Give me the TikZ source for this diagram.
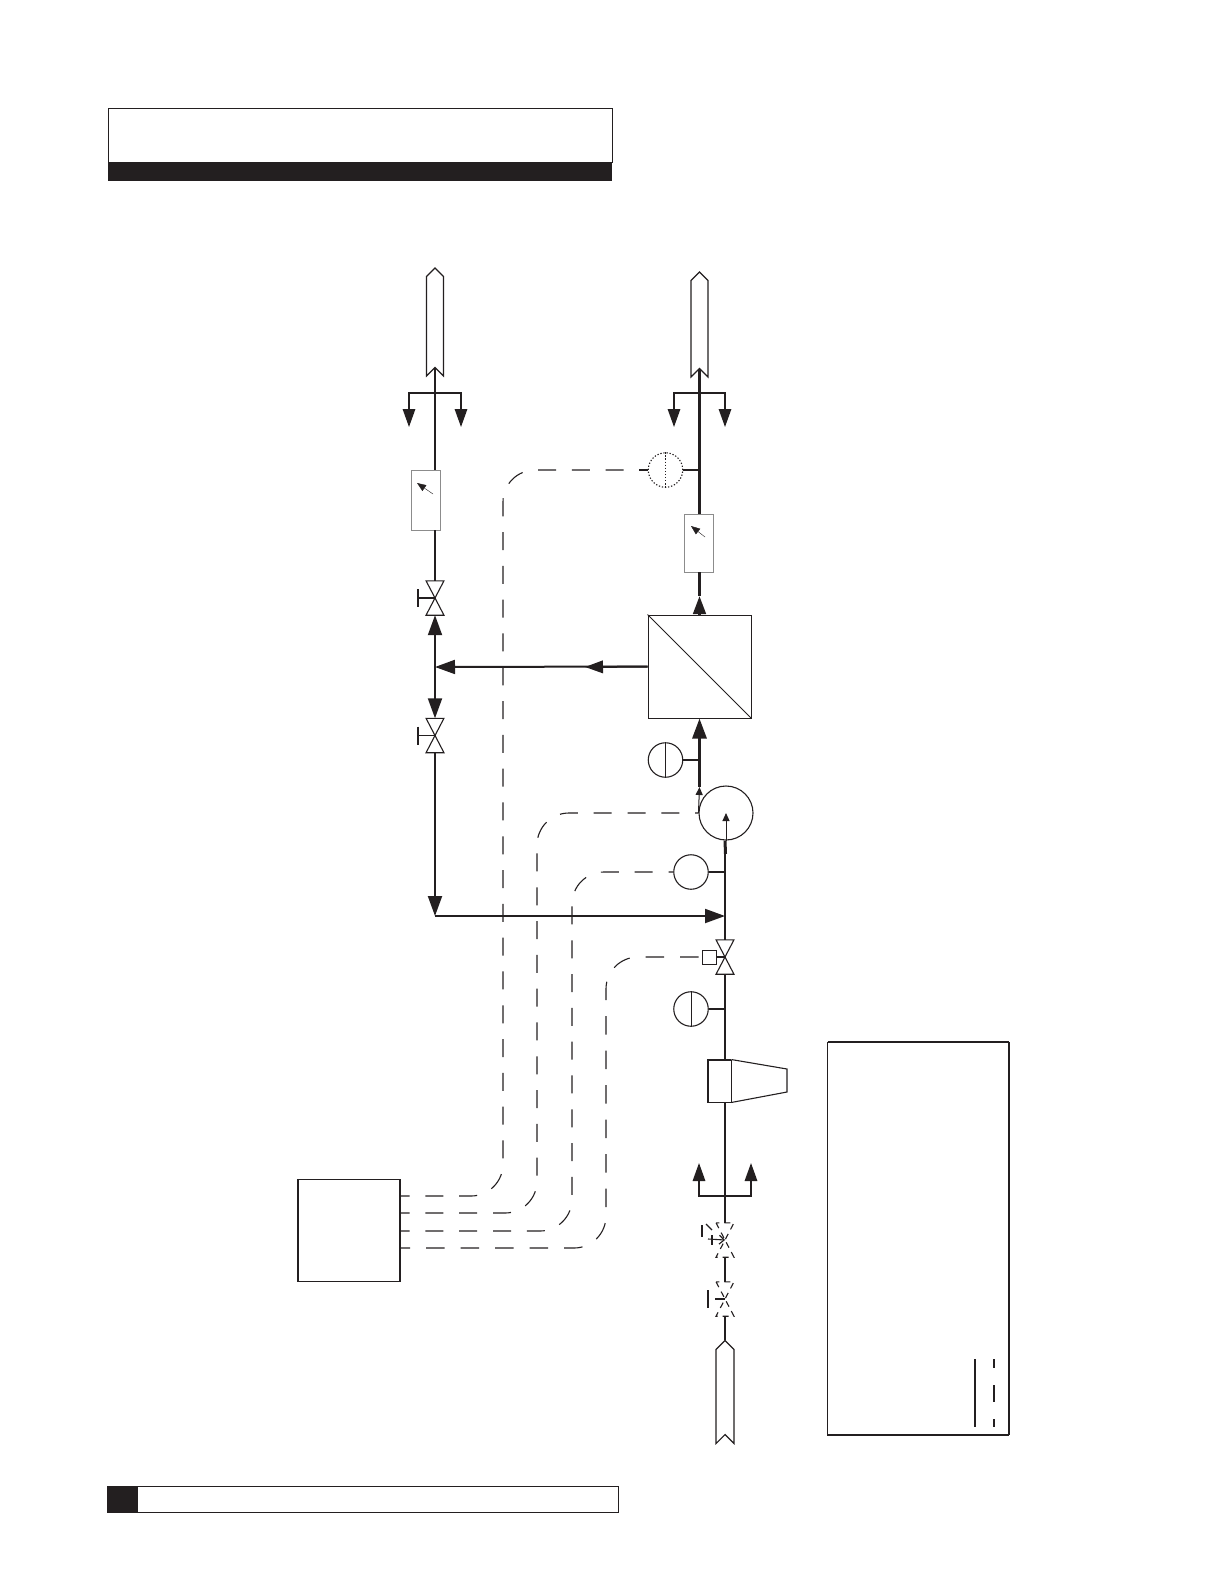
\documentclass[tikz,border=0pt]{standalone}
\usepackage{xcolor}
\usetikzlibrary{shapes,positioning,calc,arrows.meta}
\definecolor{inkblack}{HTML}{231F20}
\newcommand{\valvebody}[2][]{\draw[valveline,#1] (#2.north west) -- (#2.south east) -- (#2.south west) -- (#2.north east) -- cycle;}
\newcommand{\valvehandle}[1]{\draw[valveline] (#1.center) -- ++(-17,0) ++(0,-9) -- ++(0,18);}
\begin{document}
\begin{tikzpicture}[x=1pt, y=-1pt, inkblack, node distance=34pt,
    bighead/.tip={Triangle[length=20pt,width=14pt]},
    sidehead/.tip={Triangle[length=18pt,width=12.5pt]},
    smallhead/.tip={Triangle[length=8pt,width=7pt]},
    outline/.style={draw=inkblack,line width=1.1pt,inner sep=0pt},
    valve/.style={inner sep=0pt,minimum width=17.5pt,minimum height=34pt},
    valveline/.style={line width=1.1pt},
    gauge/.style={circle,outline,minimum size=34.5pt},
    meter/.style={draw=black!45,line width=0.8pt,inner sep=0pt,fill=white,minimum width=29pt},
    duct/.style={signal,signal to=north,signal from=south,outline,signal pointer angle=90,fill=white},
    pipe/.style={line width=2pt},
    bigpipe/.style={line width=3pt},
    twig/.style={line width=1.5pt},
    ctrl/.style={line width=1.1pt,rounded corners=32pt,dash pattern=on 18pt off 15.8pt}]
    \useasboundingbox (0,0) rectangle (1224,1584);

    % Page header and footer
    \draw[line width=0.9pt] (108,108) rectangle (612,162);
    \fill (108,162) rectangle (612,181);
    \draw[line width=0.9pt] (107,1486.5) rectangle (618,1512);
    \fill (106.5,1486) rectangle (138,1513);

    % Ducts
    \node[duct,minimum width=17pt,minimum height=91pt] (OutL) at (435,322) {};
    \node[duct,minimum width=17pt,minimum height=88pt] (OutR) at (699.5,324.5) {};
    \node[duct,minimum width=18pt,minimum height=85pt] (InB) at (725,1392) {};

    % Left column
    \node[meter,minimum height=60pt] (MeterL) at (426,500) {};
    \node[valve] (ValveA) at (435,598) {};
    \coordinate (TeeL) at (435,667);
    \node[valve] (ValveB) at (435,735.5) {};
    \coordinate (TeeLow) at (435,916);
    \coordinate (SplitL) at (435,393);

    % Right column
    \coordinate (SplitR) at (699.5,393);
    \coordinate (TapQ) at (699.5,470);
    \node[gauge,dash pattern=on 1.3pt off 1.8pt] (GaugeQ) [left of=TapQ] {};
    \node[meter,minimum height=58pt] (MeterR) at (699,543) {};
    \coordinate (FlowR) at (699.5,596);
    \node[draw,line width=1pt,minimum size=103pt,inner sep=0pt] (Mem) at (699.5,666.5) {};
    \coordinate (TapP) at (699.5,760);
    \node[gauge] (GaugeP) [left of=TapP] {};
    \node[circle,draw,line width=1.1pt,minimum size=54pt,inner sep=0pt] (Pump) at (726,813) {};
    \coordinate (TapT) at (725,872);
    \node[gauge] (GaugeT) [left of=TapT] {};
    \coordinate (TeeIn) at (725,916);
    \node[valve] (ValveC) at (725,957) {};
    \node[draw,line width=1pt,minimum size=14pt,inner sep=0pt] (Act) at (709,957) {};
    \coordinate (TapF) at (725,1009);
    \node[gauge] (GaugeF) [left of=TapF] {};
    \node[draw,line width=0.9pt,minimum width=23pt,minimum height=42pt,inner sep=0pt] (Blow) at (719.5,1081) {};
    \coordinate (SplitIn) at (725,1196);
    \node[valve] (ValveD) at (725,1240) {};
    \node[valve] (ValveE) at (725,1299) {};

    % Valve bodies
    \valvebody{ValveA}
    \valvehandle{ValveA}
    \valvebody{ValveB}
    \valvehandle{ValveB}
    \valvebody{ValveC}
    \valvebody[dash pattern=on 6pt off 5pt]{ValveD}
    \valvebody[dash pattern=on 6pt off 5pt]{ValveE}
    \draw[valveline,-{Straight Barb[length=5pt,width=9pt]}] (708,1239) -- (ValveD.center);
    \draw[valveline] (702,1225) -- (702,1237);
    \draw[valveline] (706,1224) -- (712,1230);
    \draw[valveline] (712,1235) -- (712,1245);
    \draw[valveline] (715,1299) -- (ValveE.center);
    \draw[valveline] (708,1290) -- (708,1308);

    % Gauge faces
    \draw[line width=1pt,dash pattern=on 1.3pt off 1.8pt] (GaugeQ.north) -- (GaugeQ.south);
    \draw[line width=1pt] (GaugeP.north) -- (GaugeP.south);
    \draw[line width=1pt] (GaugeF.north) -- (GaugeF.south);
    \draw[line width=1pt] (Mem.north west) -- (Mem.south east);
    \draw[line width=1.6pt] (Blow.north east) -- (Blow.north west) -- (Blow.south west) -- (Blow.south east);
    \draw[line width=1.1pt] (Blow.north east) -- (787,1069) -- (787,1092) -- (Blow.south east);
    \draw[-{Triangle[length=9pt,width=7pt]}] (705,537) -- (691,526);
    \draw[-{Triangle[length=9pt,width=7pt]}] (433,494) -- (417,483);

    % Left line with branches
    \draw[pipe] (OutL.south) -- (MeterL.north -| OutL.south);
    \draw[pipe] (MeterL.south -| ValveA.north) -- (ValveA.north);
    \draw[pipe,-{bighead}] (TeeL) -- (ValveA.south);
    \draw[pipe,-{bighead}] (TeeL) -- (ValveB.north);
    \draw[pipe,-{bighead}] (ValveB.south) -- (TeeLow);
    \draw[pipe,-{bighead}] (TeeLow) -- (TeeIn);
    \draw[twig,-{sidehead}] (SplitL) -| (409,427);
    \draw[twig,-{sidehead}] (SplitL) -| (461,427);

    % Right line with branches
    \draw[bigpipe] (OutR.south) -- (MeterR.north -| OutR.south);
    \draw[bigpipe] (MeterR.south -| FlowR) -- (FlowR);
    \draw[bigpipe,-{sidehead}] (Mem.north) -- (FlowR);
    \draw[twig,-{sidehead}] (SplitR) -| (674,427);
    \draw[twig,-{sidehead}] (SplitR) -| (725,427);
    \draw[pipe] (GaugeQ.east) -- (TapQ);
    \draw[line width=1.1pt] (GaugeQ.west) -- ++(-9,0);
    \draw[pipe] (GaugeP.east) -- (TapP);
    \draw[pipe] (GaugeT.east) -- (TapT);
    \draw[pipe] (GaugeF.east) -- (TapF);

    % Reject line
    \draw[pipe,-{bighead}] (Mem.west) -- (TeeL);
    \draw[pipe,-{sidehead}] (Mem.west) -- (585,667);

    % Pump and feed
    \draw[bigpipe,-{bighead}] (699.5,787) -- (Mem.south);
    \draw[line width=1pt,-{smallhead}] (Pump.west) -- (699.5,787);
    \draw[line width=1pt,-{smallhead}] (Pump.south) -- (Pump.center);
    \draw[pipe] (ValveC.north) -- (Pump.south -| ValveC.north);
    \draw[bigpipe] (725.5,854) -- (Pump.south -| ValveC.north);
    \draw[pipe] (Act.east) -- (ValveC.center);
    \draw[pipe] (Blow.north -| ValveC) -- (ValveC.south);
    \draw[pipe] (ValveD.north) -- (Blow.south -| ValveD);
    \draw[twig,-{sidehead}] (SplitIn) -| (699,1163);
    \draw[twig,-{sidehead}] (SplitIn) -| (751,1163);
    \draw[pipe] (ValveE.north) -- (ValveD.south);
    \draw[pipe] (InB.north) -- (ValveE.south);

    % Controller with signal lines - Dashed
    \node[draw,line width=1.2pt,minimum size=102pt,inner sep=0pt] (Ctrl) at (349,1230.5) {};
    \coordinate (SigA) at (Ctrl.east |- 0,1196);
    \coordinate (SigB) at (Ctrl.east |- 0,1213);
    \coordinate (SigC) at (Ctrl.east |- 0,1231);
    \coordinate (SigD) at (Ctrl.east |- 0,1248);
    \coordinate (BendA) at (503,470);
    \coordinate (BendB) at (537,813);
    \coordinate (BendC) at (572,872);
    \coordinate (BendD) at (606,957);
    \draw[ctrl,dash phase=9pt] (SigA) -| (BendA) -- (GaugeQ.west);
    \draw[ctrl,dash phase=9pt] (SigB) -| (BendB) -- (Pump.west);
    \draw[ctrl,dash phase=9pt] (SigC) -| (BendC) -- (GaugeT.west);
    \draw[ctrl,dash phase=9pt,dash pattern=on 18.5pt off 16pt] (SigD) -| (BendD) -- (Act.west);

    % Legend
    \draw[line width=1.1pt] (827.5,1042) -- (1009,1042);
    \draw[line width=1.1pt] (827.5,1042) -- (827.5,1435) -- (1009,1435);
    \draw[line width=2pt] (1009,1042) -- (1009,1435);
    \coordinate (KeyA) at (975,1359);
    \coordinate (KeyB) at (975,1427);
    \coordinate (KeyC) at (994,1359);
    \coordinate (KeyD) at (994,1427);
    \draw[line width=1.8pt] (KeyA) -- (KeyB);
    \draw[line width=1.8pt,dash pattern=on 9pt off 17pt on 17pt off 17pt on 8pt off 40pt] (KeyC) -- (KeyD);
\end{tikzpicture}
\end{document}
